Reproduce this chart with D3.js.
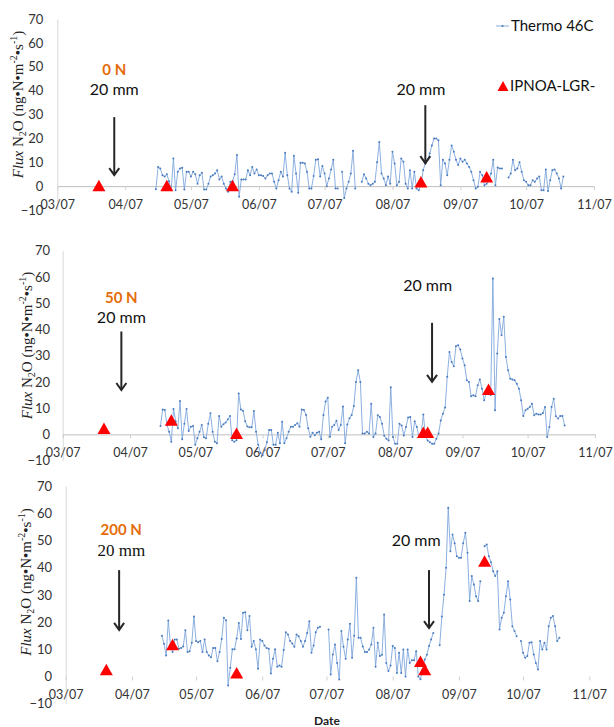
<!DOCTYPE html>
<html lang="en">
<head>
<meta charset="utf-8">
<title>N2O flux - Thermo 46C vs IPNOA-LGR</title>
<script src="https://d3js.org/d3.v7.min.js"></script>
<style>
  body { margin: 0; background: #fff; }
  svg { display: block; font-family: Lato, "Open Sans", sans-serif; }
  .axis text { fill: #333; }
</style>
</head>
<body>
<script>
var width = 614,
    height = 727;

// x axis ticks (dd/mm)
var tickDates = ["2013-03-07", "2013-04-07", "2013-05-07", "2013-06-07", "2013-07-07",
                 "2013-08-07", "2013-09-07", "2013-10-07", "2013-11-07"];
var tickLabels = ["03/07", "04/07", "05/07", "06/07", "07/07", "08/07", "09/07", "10/07", "11/07"];
var yTicks = [-10, 0, 10, 20, 30, 40, 50, 60, 70];

// Thermo 46C, one value per day starting thermoStart (null = no data)
var thermoStart = "2013-04-21";
var thermo0N = [
  -1.3, 8, 7.4, 4.6, 4, 5, 2, -1.7, 11.6, -1.7,
  6, 7.4, 7.7, -1.4, 6, 6, 4, 6, 5, 1,
  4.6, 5.6, -1.4, -1.4, 1, 4, 4.6, 5.3, 6.7, 2.8,
  4, 1, -1, -2.4, 1.8, 2, 5, 13, -4.5, 2.8,
  2.8, 2.8, 6.7, 4.6, 8, 5.3, 7, 4.6, 4.6, 4.2,
  3.2, 4.6, 5.3, 5.3, 1.8, -1, 2.5, 6, 4, 14,
  4.6, -1, -2.4, 12.7, 5.3, -2.8, 9.8, 9.8, 9.5, 6,
  -1, -1, 4.2, 11, 11.3, 4, 8.4, 5.3, 0, 3.2,
  7, 11, -1, -1, null, 6, -5, -1, 1.8, 5.3,
  14.8, -1, null, null, 1.8, 5, 3.2, 1, 0.4, 1,
  1.8, 10, 18.5, 5.3, 3.2, 0.4, 4, 1, 14.4, 9.5,
  0.4, 1.8, 11.6, 10.2, 1, -1, 6.7, -1, 6, -1,
  -1.7, 0.4, 6.7, 9.5, 11, 13.7, 17, 20, 20, 19.2,
  0.4, 11, 9.5, 4.6, 11, 17, 14.4, 11, 8.8, 11.6,
  10.2, 11, 9.5, 8, 6, 2.5, -1, -0.3, 6, 4.6,
  0.4, 1, 2.5, 5.3, 11, 0.4, 7.8, 7.4, 7.4, null,
  null, 3.6, 5.3, 11, 6.7, 7.4, 10, 6, 2.5, 1.8,
  0.4, 0.4, 2.5, 1.8, 3.2, 4, -1.7, -1.7, 7, -2,
  2.5, 6.7, 7, 5.3, 3.2, -1, 4
];
var thermo50N = [
  3.2, 9.5, 9.3, 3.6, 1, -2.8, 9.7, 5, 2.3, 12.7,
  -1.9, 4, 9.7, 1.3, 2.9, 3.2, -4, -1.5, 1, 3.6,
  -1.1, -1.5, 4, 8, 1, -2.8, -3.4, 7, 2.9, 3.9,
  4.5, 5.7, 7, -2.2, -2.8, -2.2, 15.6, 9.5, 9, 5,
  3, 2.7, 2.7, 8.9, 1, -4, -7, -8, -6, -3,
  1.7, 1.7, -4, -4, 0.6, -3.4, 4.8, -3.4, -1.5, 1,
  2.9, 2.9, 3.6, 4.2, 2.9, 9.5, 9.3, 7.4, 2.3, -0.9,
  0.6, -0.3, 0.6, 1, -1.9, 7.4, 12.5, 14, -0.9, 2.9,
  3.6, 5.2, 1.7, 3.6, 10.6, -3.4, 3.8, 6.1, 7.4, 10.8,
  20, 24.4, 20, 0.3, 0.3, 1, 0.3, 11.7, -1, 0.3,
  7.3, 6.6, 4, -0.5, -1.7, -2.3, 18, -1, -3.6, -3.6,
  4, 3.4, -0.4, 2.8, 6.4, 6.6, -1, 5, 2.8, -1,
  0.3, 7.6, -1, -2.3, -3, -3.6, -3.6, -1.7, 0.3, 5.3,
  7.9, 10.2, 22, 31.4, 27.6, 26, 33.6, 34, 32.3, 28.9,
  26.3, 20.6, 20, 14.5, 14.9, 14.5, 18.7, 20.9, 17.4, 13,
  15.8, 15.3, 15, 59.4, 9.2, 30.8, 44, 37.8, 44.8, 29.5,
  24.4, 21.2, 20.9, 20.6, 19.3, 17.4, 13, 7, 9.2, 9.8,
  10.4, 11.7, 7.3, 7.9, 7.6, 7.6, 8.1, 10.4, -1, 2.8,
  10.4, 13.6, 6.9, 6, 7, 7, 3.4
];
var thermo200N = [
  15, 12, 7.7, 20.6, 11.8, 9, 13.6, 13.6, 10.2, 10.5,
  11, 17, 9, 9.3, 12.4, 22, 13, 12.6, 13, 9,
  13.6, 9, 7.7, 7.1, 10.5, 10.5, 5.6, 9, 13.8, 21.6,
  20.7, -3.3, 3.2, 10, 10, 14, 19.7, 13.8, 23.4, 23.6,
  17, 22.2, 10.9, 13, 10, 2.8, 13.6, 13, 11.4, 10.5,
  10.2, 1.1, 6.5, 10, 3.6, 4, 3.6, 9.7, 16.3, 15.4,
  13, 12.1, 10.9, 15.4, 14.8, 13, 10.9, 13, 16, 20.3,
  8.7, 11.4, 16.3, 17.9, 18.3, null, null, null, 17.3, 0.7,
  8.1, 11.8, 5, -1.1, 16.7, 10.9, 6.5, 13.6, 19.4, 6.9,
  15, 36.3, 14.2, 14.2, 11, 9, 9, 9.9, 11.8, 17.9,
  3.6, 12.4, 7.5, 8, 22.8, 5, 2, 4, 11.2, 10.5,
  1.3, 8.7, 1.3, 9.9, 0, 9.9, 5, 6, 6, 9.3,
  0, -1, 2.6, 6.2, 8, 11.2, 13.6, 16, null, null,
  11.5, 22, 30, 40, 62, 46, 52.2, 49, 44.2, 43.6,
  43.6, 49, 52.8, 45.5, 27.7, 36.9, 33.8, 29.5, 27.7, 35,
  null, 47.9, 48.5, 44.2, 42, 38.7, 36.9, 38.7, 17.3, 21.6,
  23.4, 29.5, 35, 28.3, 18.5, 16.7, 14.8, null, 13, 8.7,
  6.9, 7.5, 12.4, 12.6, 8.1, 5, 2.6, 13, 9.9, 12.4,
  9.9, 18.5, 21.6, 22.2, 18.5, 13, 14.2
];

// IPNOA-LGR campaign measurements
var lgrDates0N = ["2013-03-26", "2013-04-26", "2013-05-26", "2013-08-20", "2013-09-19"];
var lgr0N = [0.3, 0.3, 0.3, 1.8, 3.9];
var lgrDates = ["2013-03-26", "2013-04-26", "2013-05-26", "2013-08-20", "2013-08-22", "2013-09-19"];
var lgr50N = [2.3, 5.5, 0.4, 0.8, 0.8, 17.2];
var lgr200N = [2.6, 11.8, 1.4, 5.6, 2.6, 42.4];

// irrigation events (arrow date, arrow top/bottom in flux units, label position)
var events0N = [
  {date: "2013-04-02", top: 28.9, bottom: 4.6, labelDate: "2013-04-02", labelY: 38.1, tagY: 46.5},
  {date: "2013-08-22", top: 33.9, bottom: 9.6, labelDate: "2013-08-20", labelY: 38.1}
];
var events50N = [
  {date: "2013-04-03", top: 39.2, bottom: 16.9, labelDate: "2013-04-03", labelY: 42.5, tagY: 50.2},
  {date: "2013-08-24", top: 42.5, bottom: 20, labelDate: "2013-08-22", labelY: 54.7}
];
var events200N = [
  {date: "2013-04-01", top: 39.1, bottom: 17.1, labelDate: "2013-04-02", labelY: 44.3, tagY: 52, serif: true},
  {date: "2013-08-24", top: 39.1, bottom: 17.8, labelDate: "2013-08-18", labelY: 48}
];

var parse = d3.timeParse("%Y-%m-%d");

var panels = [
  {tag: "0 N", thermo: thermo0N, lgrDates: lgrDates0N, lgr: lgr0N, events: events0N,
   left: 57.3, right: 594, top: 19, bottom: 210, labelPad: 14, titleX: 23, titleY: 104.5, axisColor: "#bfbfbf"},
  {tag: "50 N", thermo: thermo50N, lgrDates: lgrDates, lgr: lgr50N, events: events50N,
   left: 62.7, right: 595, top: 250.7, bottom: 460.6, labelPad: 12.7, titleX: 31.5, titleY: 345.5, axisColor: "#bfbfbf"},
  {tag: "200 N", thermo: thermo200N, lgrDates: lgrDates, lgr: lgr200N, events: events200N,
   left: 65.7, right: 589.3, top: 486, bottom: 703.7, labelPad: 13.7, titleX: 31, titleY: 582, axisColor: "none"}
];

var svg = d3.select("body").append("svg")
    .attr("width", width)
    .attr("height", height);

function triangle(w, h) {
  return "M0," + (-h / 2) + "L" + (w / 2) + "," + (h / 2) + "L" + (-w / 2) + "," + (h / 2) + "Z";
}

function drawArrow(g, x, y1, y2) {
  g.append("line")
    .attr("x1", x).attr("x2", x)
    .attr("y1", y1).attr("y2", y2)
    .style("stroke", "#262626").style("stroke-width", 2);
  g.append("path")
    .attr("d", "M" + (x - 5) + "," + (y2 - 7) + "L" + x + "," + y2 + "L" + (x + 5) + "," + (y2 - 7))
    .style("fill", "none").style("stroke", "#262626").style("stroke-width", 2);
}

panels.forEach(function(p) {
  var x = d3.scaleTime()
      .domain([parse(tickDates[0]), parse(tickDates[tickDates.length - 1])])
      .range([p.left, p.right]);
  var y = d3.scaleLinear()
      .domain([-10, 70])
      .range([p.bottom, p.top]);

  var g = svg.append("g");

  // y axis
  var yAxis = g.append("g")
      .attr("class", "axis")
      .attr("transform", "translate(" + p.left + ",0)")
      .call(d3.axisLeft(y).tickValues(yTicks).tickSize(0).tickPadding(p.labelPad));
  yAxis.select(".domain").style("stroke", "#d9d9d9");
  yAxis.selectAll("text").style("font-size", "13px").style("font-family", "Lato, sans-serif");

  // x axis at zero
  var xAxis = g.append("g")
      .attr("class", "axis")
      .attr("transform", "translate(0," + y(0) + ")")
      .call(d3.axisBottom(x)
        .tickValues(tickDates.map(parse))
        .tickFormat(function(d, i) { return tickLabels[i]; })
        .tickSizeInner(4).tickSizeOuter(0).tickPadding(10));
  xAxis.select(".domain").style("stroke", p.axisColor);
  xAxis.selectAll(".tick line").style("stroke", "#d0d0d0");
  xAxis.selectAll("text").style("font-size", "12.5px").style("font-family", "Lato, sans-serif");

  // axis title
  var title = g.append("text")
      .attr("transform", "translate(" + p.titleX + "," + p.titleY + ") rotate(-90)")
      .attr("text-anchor", "middle")
      .style("font-family", "'Liberation Serif', 'Times New Roman', serif")
      .style("font-size", "15px")
      .style("fill", "#222");
  title.append("tspan").style("font-style", "italic").text("Flux");
  title.append("tspan").text(" N");
  title.append("tspan").attr("dy", 3).style("font-size", "10px").text("2");
  title.append("tspan").attr("dy", -3).text("O (ng\u2022N\u2022m");
  title.append("tspan").attr("dy", -6).style("font-size", "10px").text("-2");
  title.append("tspan").attr("dy", 6).text("\u2022s");
  title.append("tspan").attr("dy", -6).style("font-size", "10px").text("-1");
  title.append("tspan").attr("dy", 6).text(")");

  // Thermo 46C series
  var start = parse(thermoStart);
  var pts = p.thermo.map(function(v, i) {
    return {date: d3.timeDay.offset(start, i), v: v};
  });
  var line = d3.line()
      .defined(function(d) { return d.v !== null; })
      .x(function(d) { return x(d.date); })
      .y(function(d) { return y(d.v); });

  g.append("path")
    .datum(pts)
    .attr("d", line)
    .style("fill", "none")
    .style("stroke", "#7fa7dc")
    .style("stroke-width", 0.9);

  g.selectAll(".dot")
    .data(pts.filter(function(d) { return d.v !== null; }))
    .enter().append("circle")
    .attr("class", "dot")
    .attr("cx", function(d) { return x(d.date); })
    .attr("cy", function(d) { return y(d.v); })
    .attr("r", 1)
    .style("fill", "#4a7bbf");

  // IPNOA-LGR
  g.selectAll(".lgr")
    .data(p.lgr)
    .enter().append("path")
    .attr("class", "lgr")
    .attr("d", triangle(13, 11.5))
    .attr("transform", function(d, i) {
      return "translate(" + x(parse(p.lgrDates[i])) + "," + y(d) + ")";
    })
    .style("fill", "#ff0000");

  // irrigation events
  p.events.forEach(function(e) {
    drawArrow(g, x(parse(e.date)), y(e.top), y(e.bottom));
    g.append("text")
      .attr("x", x(parse(e.labelDate)))
      .attr("y", y(e.labelY))
      .attr("text-anchor", "middle")
      .style("font-family", e.serif ? "'Liberation Serif', serif" : "Lato, sans-serif")
      .style("font-size", e.serif ? "17px" : "16px")
      .style("fill", "#111")
      .text("20 mm");
    if (e.tagY !== undefined) {
      g.append("text")
        .attr("x", x(parse(e.labelDate)))
        .attr("y", y(e.tagY))
        .attr("text-anchor", "middle")
        .style("font-size", "15px")
        .style("font-weight", "bold")
        .style("fill", "#e46c0a")
        .text(p.tag);
    }
  });
});

// legend (top panel)
var legend = svg.append("g");
legend.append("line")
  .attr("x1", 496).attr("x2", 509).attr("y1", 26).attr("y2", 26)
  .style("stroke", "#7fa7dc").style("stroke-width", 0.9);
legend.append("circle")
  .attr("cx", 502.5).attr("cy", 26).attr("r", 1.1)
  .style("fill", "#4a7bbf");
legend.append("text")
  .attr("x", 511).attr("y", 31)
  .style("font-size", "15px").style("fill", "#111")
  .text("Thermo 46C");
legend.append("path")
  .attr("d", triangle(11, 10))
  .attr("transform", "translate(503,86)")
  .style("fill", "#ff0000");
legend.append("text")
  .attr("x", 510).attr("y", 91)
  .style("font-size", "15px").style("fill", "#111")
  .text("IPNOA-LGR-");

svg.append("text")
  .attr("x", 327).attr("y", 725)
  .attr("text-anchor", "middle")
  .style("font-size", "12px")
  .style("font-weight", "bold")
  .style("fill", "#222")
  .text("Date");
</script>
</body>
</html>
